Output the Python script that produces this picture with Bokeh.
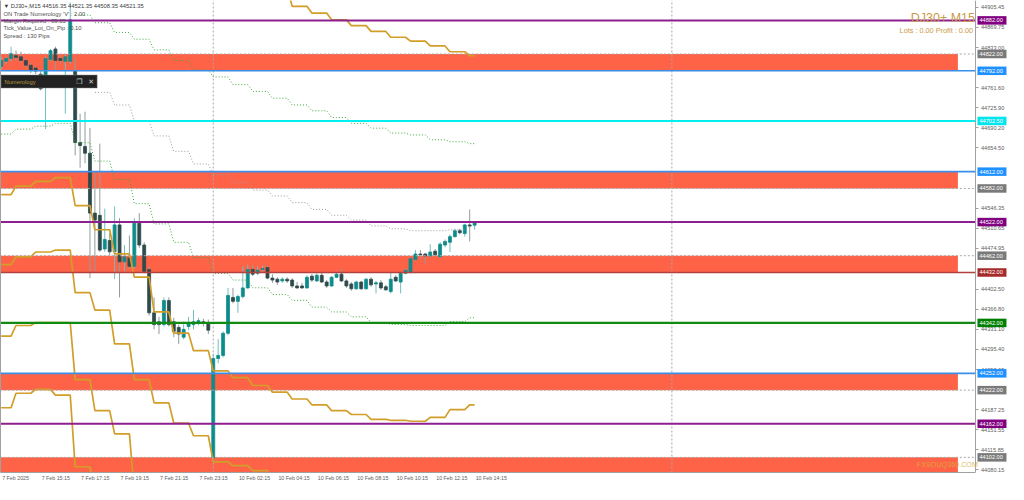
import math
from bokeh.plotting import figure
from bokeh.models import Range1d, FixedTicker, NumeralTickFormatter, Label, BoxAnnotation, LinearAxis
from bokeh.core.properties import value
from bokeh.embed import file_html
from bokeh.resources import INLINE

NaN = float("nan")

# ---------------- data ----------------
time_labels = ["7 Feb 2025", "7 Feb 15:15", "7 Feb 17:15", "7 Feb 19:15", "7 Feb 21:15",
               "7 Feb 23:15", "10 Feb 02:15", "10 Feb 04:15", "10 Feb 06:15", "10 Feb 08:15",
               "10 Feb 10:15", "10 Feb 12:15", "10 Feb 14:15"]
time_label_bars = [0, 8, 16, 24, 32, 40, 48, 56, 64, 72, 80, 88, 96]

price_ticks = [44905.45, 44869.75, 44833.00, 44761.60, 44725.90, 44690.20, 44654.50,
               44546.35, 44510.65, 44474.95, 44402.50, 44366.80, 44331.10,
               44295.40, 44258.65, 44187.25, 44151.55, 44115.85, 44080.15]

open_ = [44800, 44809, 44814, 44819, 44817, 44810.5, 44802, 44797, 44786, 44765.5,
         44812, 44831, 44814, 44809, 44809, 44791.5, 44664, 44657, 44645, 44538,
         44534, 44474, 44489, 44469, 44517, 44451, 44458, 44443, 44520, 44481,
         44437.5, 44360, 44344, 44339, 44382, 44344, 44334, 44316.5, 44335.5, 44339,
         44342.5, 44344, 44341, 44101, 44278.5, 44284, 44323.5, 44387.5, 44380.5, 44389,
         44404.5, 44437.5, 44430.5, 44437.5, 44441, 44422, 44420, 44417, 44420, 44418.5,
         44408, 44408, 44404.5, 44425.5, 44417, 44427, 44415, 44408, 44423.5, 44429,
         44417, 44411.5, 44403, 44415, 44403, 44420, 44411.5, 44413.5, 44406.5, 44398,
         44423.5, 44415, 44430.5, 44432.5, 44455, 44465, 44465, 44461.5, 44470, 44460,
         44481, 44486, 44496, 44506.5, 44501.5, 44517, 44516.35]
high_ = [44817, 44817, 44835, 44828, 44826, 44814, 44807, 44800, 44791.5, 44817,
         44831, 44835, 44817, 44821, 44914, 44814, 44715.5, 44719, 44690, 44612,
         44662, 44546, 44503, 44550, 44529, 44481, 44498, 44529, 44538, 44486,
         44443, 44387.5, 44353, 44387.5, 44387.5, 44351, 44339, 44344, 44353, 44365,
         44351, 44349.5, 44348, 44287, 44313, 44327, 44404.5, 44404.5, 44392.5, 44443,
         44446, 44444.5, 44443, 44444.5, 44444.5, 44429, 44423.5, 44423.5, 44423.5, 44422,
         44415, 44413.5, 44427, 44429, 44430.5, 44432.5, 44418.5, 44425.5, 44432.5, 44437.5,
         44420, 44415, 44417, 44417, 44422, 44423.5, 44417, 44418.5, 44410, 44432.5,
         44427, 44432.5, 44439, 44458, 44472, 44472, 44467, 44482.5, 44474, 44486,
         44491, 44500, 44510, 44510, 44519, 44544.5, 44521.35]
low_ = [44793, 44805, 44809, 44810.5, 44807, 44798, 44788, 44786, 44757, 44688,
        44809, 44793, 44805, 44715.5, 44805, 44641, 44619, 44627, 44422, 44434,
        44469, 44469, 44463, 44420, 44387.5, 44434, 44439, 44439, 44475.5, 44430.5,
        44355, 44330.5, 44322, 44335.5, 44335.5, 44316.5, 44304.5, 44313, 44329, 44330.5,
        44337.5, 44335.5, 44322, 44100, 44270, 44280.5, 44320, 44377, 44360, 44385.5,
        44403, 44425.5, 44427, 44434, 44420, 44413.5, 44410, 44413.5, 44413.5, 44404.5,
        44403, 44403, 44403, 44415, 44415, 44413.5, 44404.5, 44406.5, 44422, 44415,
        44404.5, 44399.5, 44401, 44401, 44401, 44406.5, 44394.5, 44401, 44399.5, 44394.5,
        44415, 44394.5, 44429, 44430.5, 44453, 44458, 44448, 44460, 44461.5, 44458,
        44477, 44468.5, 44494.5, 44500, 44496, 44487.5, 44508.35]
close_ = [44810.5, 44814, 44822.5, 44816, 44810.5, 44802, 44793, 44791.5, 44760, 44814,
          44828, 44810.5, 44810.5, 44817, 44883, 44664, 44658.5, 44645, 44538, 44525.5,
          44472, 44491, 44469, 44517, 44451, 44460, 44443, 44520, 44481, 44434,
          44360, 44339, 44339, 44382, 44339, 44327, 44322, 44330.5, 44341, 44344,
          44346, 44341, 44329, 44278.5, 44284, 44323.5, 44391, 44380.5, 44389, 44404.5,
          44437.5, 44429, 44436, 44439, 44422, 44418.5, 44415, 44420, 44417, 44408,
          44404.5, 44404.5, 44423.5, 44418.5, 44427, 44415, 44408, 44423.5, 44429, 44417,
          44408, 44403, 44415, 44403, 44420, 44410, 44413.5, 44404.5, 44401, 44420,
          44417, 44430.5, 44436, 44456.5, 44465, 44463.5, 44461.5, 44468.5, 44463.5, 44482.5,
          44487.5, 44496, 44506.5, 44503, 44517, 44515, 44521.35]

# hourly indicator values (one value per hour, first bar index of each hour)
hour_start_bars = [0, 3, 7, 11, 15, 19, 23, 27, 31, 35, 39, 43, 47, 51, 55, 59, 63, 67, 71, 75, 79, 83, 87, 91, 95]
band_upper = [NaN, NaN, NaN, NaN, 44891.6, 44877.8, 44860.5, 44848.4, 44829.4, 44810.5, 44793.2, 44781.1,
              44767.3, 44755.2, 44743.1, 44731.0, 44720.7, 44708.6, 44698.2, 44689.6, 44680.9, 44677.5,
              44668.9, 44665.4, 44662.0]
band_middle = [NaN, NaN, NaN, NaN, NaN, 44753.5, 44731.0, 44701.7, 44675.8, 44648.2, 44625.7, 44606.7,
               44592.9, 44579.1, 44568.7, 44556.7, 44544.6, 44534.2, 44525.6, 44515.2, 44510.0, 44506.6,
               44506.6, 44508.3, 44515.2]
band_lower = [44679.2, 44687.9, 44693.1, 44698.2, 44663.7, 44630.9, 44598.1, 44554.9, 44518.7, 44485.9,
              44458.3, 44430.6, 44418.5, 44404.7, 44392.6, 44382.3, 44370.2, 44361.6, 44352.9, 44342.6,
              44339.1, 44337.4, 44337.4, 44344.3, 44351.2]
gold_a = [NaN] * 14 + [44940.0, 44907.1, 44895.1, 44883.0, 44872.6, 44862.3, 44851.9, 44845.0, 44836.4,
                       44826.0, 44819.1]
gold_b = [44571.0, 44586.0, 44594.6, 44601.5, 44551.5, 44508.3, 44465.2, 44423.7, 44361.6, 44323.6,
          44292.5, 44256.3, 44244.2, 44230.3, 44218.3, 44206.2, 44195.8, 44185.5, 44178.5, 44169.9,
          44168.2, 44166.5, 44173.4, 44187.2, 44195.8]
gold_c = [44446.2, 44460.0, 44468.6, 44472.1, 44396.1, 44365.0, 44304.6, 44240.7, 44199.3, 44163.0,
          44140.6, 44094.0, 44087.1, 44078.4, 44040.0] + [NaN] * 10
gold_d = [44318.4, 44337.4, 44342.6, 44342.6, 44240.7, 44185.5, 44144.0, 44040.0] + [NaN] * 17
gold_e = [44190.6, 44216.5, 44223.4, 44213.1, 44085.3, 44040.0] + [NaN] * 19

zone_tops = [44822, 44612, 44462, 44252, 44102]
zone_bottoms = [44792, 44582, 44432, 44222, 44000]
zone_end_bar = 194
level_prices = [44882, 44822, 44792, 44702.5, 44612, 44582, 44522, 44462, 44432, 44342, 44252, 44222, 44162, 44102]
level_kinds = ["purple", "gray", "blue", "cyan", "blue", "gray", "purple", "gray", "brown", "green",
               "blue", "gray", "purple", "gray"]
separator_bars = [43, 136]

info_lines = ["\u25bc  DJ30+,M15  44516.35 44521.35 44508.35 44521.35",
              "ON Trade Numerology 'V' : 2.00",
              "Margin Required : 89.05",
              "Tick_Value_Lot_On_Pip : 0.10",
              "Spread : 130  Pips"]

# ---------------- geometry / styles ----------------
W, H = 1008, 484
BORDER_B = 12
FONT = "Liberation Sans"


def ref_x(px):   # reference-pixel -> bar index (for overlay placement)
    return (px - 2.7) / 5.0


Y_LOW, Y_HIGH = 44075.0, 44917.5


def ref_y(py):   # reference-pixel -> price
    return Y_HIGH - py * (Y_HIGH - Y_LOW) / 488.0


X_START, X_END = ref_x(2), ref_x(1024)
AXIS_X = ref_x(991)
FRAME_W = W - 1
PX_PER_BAR = FRAME_W / (X_END - X_START)

LEVEL_STYLE = {
    "purple": dict(color="#8E1F8E", width=2.0, dash="solid", marker="#800080"),
    "gray": dict(color="#A8A8A8", width=1.0, dash="2 2", marker="#7A7A7A"),
    "blue": dict(color="#3C8FE8", width=1.6, dash="solid", marker="#1E90FF"),
    "cyan": dict(color="#00F0F0", width=2.0, dash="solid", marker="#00E5EE"),
    "brown": dict(color="#B0413E", width=1.6, dash="solid", marker="#A52A2A"),
    "green": dict(color="#108A10", width=2.2, dash="solid", marker="#008000"),
}


def per_bar(values, n):
    out = []
    for k, s in enumerate(hour_start_bars):
        e = hour_start_bars[k + 1] if k + 1 < len(hour_start_bars) else n
        out += [values[k]] * (e - s)
    return out[:n]


p = figure(width=W, height=H, output_backend="svg", toolbar_location=None,
           x_range=Range1d(X_START, X_END), y_range=Range1d(Y_LOW, Y_HIGH),
           y_axis_location="right", min_border_left=0, min_border_right=0,
           min_border_top=0, min_border_bottom=BORDER_B)
p.background_fill_color = "white"
p.border_fill_color = "white"
p.outline_line_color = None
p.xgrid.visible = False
p.ygrid.visible = False

price_axis = p.yaxis[0]

# plain left border of the chart window
left_edge = LinearAxis(ticker=FixedTicker(ticks=[]), major_label_text_font_size="0px",
                       major_tick_out=0, major_tick_in=0, minor_tick_out=0, minor_tick_in=0,
                       axis_line_color="#A0A0A0", axis_line_width=1, major_label_standoff=0)
p.add_layout(left_edge, "left")

# zones
p.quad(left=-1, right=zone_end_bar, top=zone_tops, bottom=zone_bottoms,
       fill_color="#FF6347", line_color=None)

# separators
for b in separator_bars:
    p.segment(x0=[b], x1=[b], y0=[Y_LOW - 50], y1=[Y_HIGH + 50], line_color="#A8A8A8",
              line_width=1, line_dash="2 2")

# candles
n = len(open_)
bars = list(range(n))
inc = [c >= o for o, c in zip(open_, close_)]
wick_col = ["#74BDBD" if u else "#909C9C" for u in inc]
body_col = ["#0E8C8C" if u else "#2E4A4B" for u in inc]
p.segment(x0=bars, x1=bars, y0=low_, y1=high_, line_color=wick_col, line_width=1)
p.vbar(x=bars, width=0.6, top=[max(o, c) for o, c in zip(open_, close_)],
       bottom=[min(o, c) for o, c in zip(open_, close_)], fill_color=body_col,
       line_color=body_col, line_width=0.8)

# indicators
p.line(bars, per_bar(band_upper, n), line_color="#3DAA3D", line_width=1, line_dash="1 2")
p.line(bars, per_bar(band_middle, n), line_color="#9A9A9A", line_width=1, line_dash="1 2")
p.line(bars, per_bar(band_lower, n), line_color="#3DAA3D", line_width=1, line_dash="1 2")
for g in (gold_a, gold_b, gold_c, gold_d, gold_e):
    p.line(bars, per_bar(g, n), line_color="#D29E2A", line_width=1.7)

# level lines (up to the price axis)
for price, kind in zip(level_prices, level_kinds):
    st = LEVEL_STYLE[kind]
    p.segment(x0=[X_START - 5], x1=[AXIS_X], y0=[price], y1=[price], line_color=st["color"],
              line_width=st["width"], line_dash=st["dash"])

# price axis
price_axis.fixed_location = AXIS_X
price_axis.ticker = FixedTicker(ticks=price_ticks)
price_axis.formatter = NumeralTickFormatter(format="0.00")
price_axis.major_label_text_font = FONT
price_axis.major_label_text_font_size = "5.6px"
price_axis.major_label_text_color = "#606060"
price_axis.major_tick_out = 3
price_axis.major_tick_in = 0
price_axis.minor_tick_out = 0
price_axis.minor_tick_in = 0
price_axis.major_label_standoff = 2
price_axis.axis_line_color = "#A0A0A0"
price_axis.major_tick_line_color = "#A0A0A0"

# time axis
CHAR_EM = {**{d: 0.556 for d in "0123456789"}, " ": 0.278, ":": 0.278, "F": 0.611}
XFS = 5.3
shift_ticks, overrides = [], {}
for b, lbl in zip(time_label_bars, time_labels):
    w = sum(CHAR_EM.get(ch, 0.556) for ch in lbl) * XFS
    t = round(b + (w / 2 + 1) / PX_PER_BAR, 3)
    shift_ticks.append(t)
    overrides[t] = lbl
p.xaxis.ticker = FixedTicker(ticks=shift_ticks)
p.xaxis.major_label_overrides = overrides
p.xaxis.bounds = (X_START, AXIS_X)
p.xaxis.major_label_text_font = FONT
p.xaxis.major_label_text_font_size = f"{XFS}px"
p.xaxis.major_label_text_color = "#606060"
p.xaxis.major_tick_out = 0
p.xaxis.major_tick_in = 0
p.xaxis.minor_tick_out = 0
p.xaxis.minor_tick_in = 0
p.xaxis.major_label_standoff = 2
p.xaxis.axis_line_color = "#A0A0A0"

# price markers on the axis
MARK_W = 29
marker_colors = [LEVEL_STYLE[k]["marker"] for k in level_kinds]
p.rect(x=[AXIS_X + (MARK_W / 2 + 1.5) / PX_PER_BAR] * len(level_prices), y=level_prices,
       width=MARK_W, height=8.5, width_units="screen", height_units="screen",
       fill_color=marker_colors, line_color=None, level="overlay")
p.text(x=[AXIS_X] * len(level_prices), y=level_prices, text=[f"{v:.2f}" for v in level_prices],
       x_offset=3.5, text_font=value(FONT), text_font_size="5.6px", text_color="white",
       text_baseline="middle", text_align="left", level="overlay")

# info texts
for k, line in enumerate(info_lines):
    p.add_layout(Label(x=ref_x(5), y=ref_y(6 + 7.6 * k), text=line, text_font=FONT,
                       text_font_size="5.8px", text_color="#3A3A3A" if k == 0 else "#505050",
                       text_baseline="middle"))

p.add_layout(Label(x=ref_x(990), y=ref_y(18), text="DJ30+ M15", text_font=FONT,
                   text_font_size="12.5px", text_color="#C99A48", text_align="right",
                   text_baseline="middle"))
p.add_layout(Label(x=ref_x(988), y=ref_y(31), text="Lots : 0.00 Profit : 0.00", text_font=FONT,
                   text_font_size="7.3px", text_color="#C99A48", text_align="right",
                   text_baseline="middle"))
p.add_layout(Label(x=ref_x(993), y=ref_y(480), text="FXSOUQ360.COM", text_font=FONT,
                   text_font_size="7.2px", text_color="#D6B038", text_alpha=0.85,
                   text_align="right", text_baseline="middle"))

# Numerology panel
p.add_layout(BoxAnnotation(left=ref_x(2.5), right=ref_x(100), top=ref_y(77), bottom=ref_y(90.5),
                           fill_color="#222222", fill_alpha=1.0, line_color="#8A8A8A",
                           line_width=1.5))
p.add_layout(Label(x=ref_x(6), y=ref_y(83.8), text="Numerology", text_font=FONT,
                   text_font_size="5.8px", text_color="#B8963A", text_baseline="middle"))
p.add_layout(Label(x=ref_x(82), y=ref_y(83.8), text="\u2750", text_font="DejaVu Sans",
                   text_font_size="7px", text_color="#CFCFCF", text_align="center",
                   text_baseline="middle"))
p.add_layout(Label(x=ref_x(94), y=ref_y(83.8), text="\u2715", text_font="DejaVu Sans",
                   text_font_size="7px", text_color="#CFCFCF", text_align="center",
                   text_baseline="middle"))

open("out.html", "w").write(file_html(p, INLINE))
